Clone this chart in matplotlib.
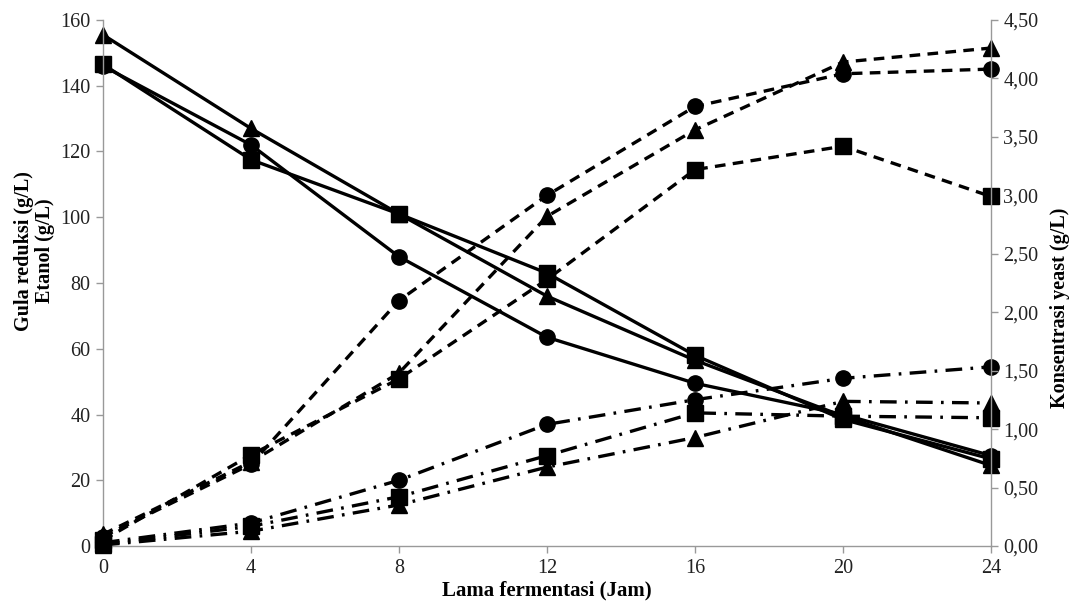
import matplotlib
matplotlib.use("Agg")
import matplotlib.pyplot as plt
from matplotlib.ticker import FuncFormatter

# Data
time_h = [0, 4, 8, 12, 16, 20, 24]

# Reducing sugar (g/L) - solid lines, left axis
sugar_circle = [146.0, 122.0, 88.0, 63.5, 49.5, 40.0, 27.5]
sugar_square = [146.5, 117.5, 101.0, 83.0, 58.0, 38.5, 26.5]
sugar_triangle = [155.5, 127.0, 101.0, 76.0, 56.5, 39.5, 24.5]

# Ethanol (g/L) - dash-dot lines, left axis
eth_circle = [1.0, 7.0, 20.0, 37.0, 44.5, 51.0, 54.5]
eth_square = [0.5, 6.0, 15.0, 27.5, 40.5, 39.5, 39.0]
eth_triangle = [0.3, 4.5, 12.5, 24.0, 33.0, 44.0, 43.5]

# Yeast concentration (g/L) - dashed lines, right axis
yeast_circle = [0.08, 0.70, 2.10, 3.00, 3.76, 4.04, 4.08]
yeast_square = [0.05, 0.78, 1.43, 2.28, 3.22, 3.42, 2.99]
yeast_triangle = [0.10, 0.72, 1.48, 2.82, 3.56, 4.14, 4.26]

x_ticks = [0, 4, 8, 12, 16, 20, 24]
left_ticks = [0, 20, 40, 60, 80, 100, 120, 140, 160]
right_ticks = [0, 0.5, 1.0, 1.5, 2.0, 2.5, 3.0, 3.5, 4.0, 4.5]

plt.rcParams['font.family'] = ['Liberation Serif', 'DejaVu Serif']

fig = plt.figure(figsize=(10.74, 6.02), dpi=100)
ax = fig.add_axes([0.0959, 0.0930, 0.9227 - 0.0959, 0.9668 - 0.0930])
ax2 = ax.twinx()

lw = 2.4
ms = 11
dash_style = (0, (3.2, 2.2))
dashdot_style = (0, (5, 2.5, 0.8, 2.5))

kw = dict(color='black', linewidth=lw, markersize=ms, clip_on=False)

for vals, mk in [(sugar_circle, 'o'), (sugar_square, 's'), (sugar_triangle, '^')]:
    ax.plot(time_h, vals, marker=mk, linestyle='-', **kw)
for vals, mk in [(eth_circle, 'o'), (eth_square, 's'), (eth_triangle, '^')]:
    ax.plot(time_h, vals, marker=mk, linestyle=dashdot_style, **kw)
for vals, mk in [(yeast_circle, 'o'), (yeast_square, 's'), (yeast_triangle, '^')]:
    ax2.plot(time_h, vals, marker=mk, linestyle=dash_style, **kw)

ax.set_xlim(0, 24)
ax.set_ylim(0, 160)
ax2.set_ylim(0, 4.5)
ax.set_xticks(x_ticks)
ax.set_yticks(left_ticks)
ax2.set_yticks(right_ticks)
ax2.yaxis.set_major_formatter(FuncFormatter(lambda v, p: f"{v:.2f}".replace('.', ',')))

for a in (ax, ax2):
    a.spines['top'].set_visible(False)
    for s in ('left', 'right', 'bottom'):
        a.spines[s].set_color('#999999')
        a.spines[s].set_linewidth(1.0)
    a.tick_params(axis='both', colors='#999999', labelcolor='#222222',
                  labelsize=14.5, length=5, width=1.0, direction='out', pad=4)
ax.spines['right'].set_visible(False)
ax2.spines['left'].set_visible(False)
ax2.spines['bottom'].set_visible(False)

ax.set_xlabel('Lama fermentasi (Jam)', fontsize=15, fontweight='bold', labelpad=2)
ax.set_ylabel('Gula reduksi (g/L)\nEtanol (g/L)', fontsize=14.5, fontweight='bold',
              linespacing=1.1)
ax.yaxis.set_label_coords(-0.054, 0.561)
ax2.set_ylabel('Konsentrasi yeast (g/L)', fontsize=14.5, fontweight='bold')
ax2.yaxis.set_label_coords(1.066, 0.452)

fig.savefig('out.png', dpi=100, facecolor='white')
